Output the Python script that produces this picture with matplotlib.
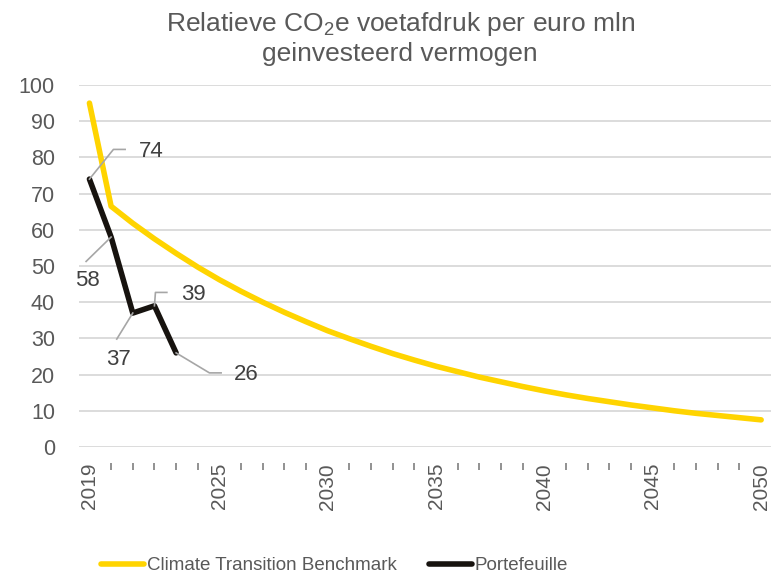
import matplotlib
matplotlib.use('Agg')
import matplotlib.pyplot as plt
from matplotlib.lines import Line2D
from matplotlib.transforms import IdentityTransform

years = list(range(2019, 2051))
benchmark = [95.0, 66.5, 61.8, 57.5, 53.5, 49.7, 46.2, 43.0, 40.0, 37.2, 34.6,
             32.1, 29.9, 27.8, 25.8, 24.0, 22.3, 20.8, 19.3, 18.0, 16.7,
             15.5, 14.4, 13.4, 12.5, 11.6, 10.8, 10.0, 9.3, 8.7, 8.1, 7.5]
portfolio_years = [2019, 2020, 2021, 2022, 2023]
portfolio = [74, 58, 37, 39, 26]
labeled_years = [2019, 2025, 2030, 2035, 2040, 2045, 2050]

plt.rcParams['font.family'] = ['Liberation Sans', 'DejaVu Sans']
plt.rcParams['mathtext.fontset'] = 'custom'
plt.rcParams['mathtext.rm'] = 'Liberation Sans'

grey = '#595959'
yellow = '#FFD400'
black = '#17130F'

fig = plt.figure(figsize=(7.71, 5.75), dpi=100)
ax = fig.add_axes([78.6 / 771, 128 / 575, (772 - 78.6) / 771, 362 / 575])

x = [y - 2019 for y in years]
xp = [y - 2019 for y in portfolio_years]
ax.plot(x, benchmark, color=yellow, lw=4, solid_capstyle='round', solid_joinstyle='round', zorder=3)
ax.plot(xp, portfolio, color=black, lw=4, solid_capstyle='round', solid_joinstyle='round', zorder=4)

ax.set_xlim(-0.5, 31.5)
ax.set_ylim(0, 100)
ax.set_yticks(range(0, 101, 10))
ax.yaxis.grid(True, color='#d9d9d9', lw=1.3)
ax.set_axisbelow(True)
ax.tick_params(axis='y', length=0, pad=17, labelsize=15.5, labelcolor=grey)

major = [y - 2019 for y in labeled_years]
minor = [i for i in x if i not in major]
ax.set_xticks(major)
ax.set_xticklabels([str(y) for y in labeled_years])
ax.set_xticks(minor, minor=True)
ax.tick_params(axis='x', which='major', length=0, pad=0, labelsize=15,
               labelcolor=grey, labelrotation=90)
ax.tick_params(axis='x', which='minor', length=5, width=1.2, color='#7f7f7f', direction='out')
for lbl in ax.get_xticklabels():
    lbl.set_va('top')

for s in ax.spines.values():
    s.set_visible(False)
ax.spines['bottom'].set_position(('outward', 11.5))

# data labels with leader lines (pixel offsets)
offsets = {
    74: ([(24, 29.7), (35.7, 29.7)], (61.4, 28)),
    58: ([(-25, -24.4)], (-23.7, -43.4)),
    37: ([(-16, -26)], (-14, -46.7)),
    39: ([(1, 13.4), (12.4, 13.4)], (39, 11.7)),
    26: ([(33.3, -20), (45, -20)], (70, -21.6)),
}
for xi, v in zip(xp, portfolio):
    px, py = ax.transData.transform((xi, v))
    pts, (tx, ty) = offsets[v]
    xs = [px] + [px + d[0] for d in pts]
    ys = [py] + [py + d[1] for d in pts]
    fig.add_artist(Line2D(xs, ys, transform=IdentityTransform(), color='#a6a6a6', lw=1.2, zorder=5))
    ax.annotate(str(v), (xi, v), xytext=(tx, ty), textcoords='offset pixels',
                ha='center', va='center', fontsize=16, color='#404040')

fig.text(0.519, 0.934, 'Relatieve CO$_2$e voetafdruk per euro mln\ngeinvesteerd vermogen',
         ha='center', va='center', fontsize=19, color=grey, linespacing=1.2)

handles = [Line2D([], [], color=yellow, lw=4, solid_capstyle='round'),
           Line2D([], [], color=black, lw=4, solid_capstyle='round')]
fig.legend(handles, ['Climate Transition Benchmark', 'Portefeuille'], loc='center',
           bbox_to_anchor=(0.434, 0.016), ncol=2, frameon=False, handlelength=2.3,
           handletextpad=0.15, columnspacing=1.7,
           prop={'size': 13.5}, labelcolor=grey)

fig.savefig('out.png', dpi=100)
